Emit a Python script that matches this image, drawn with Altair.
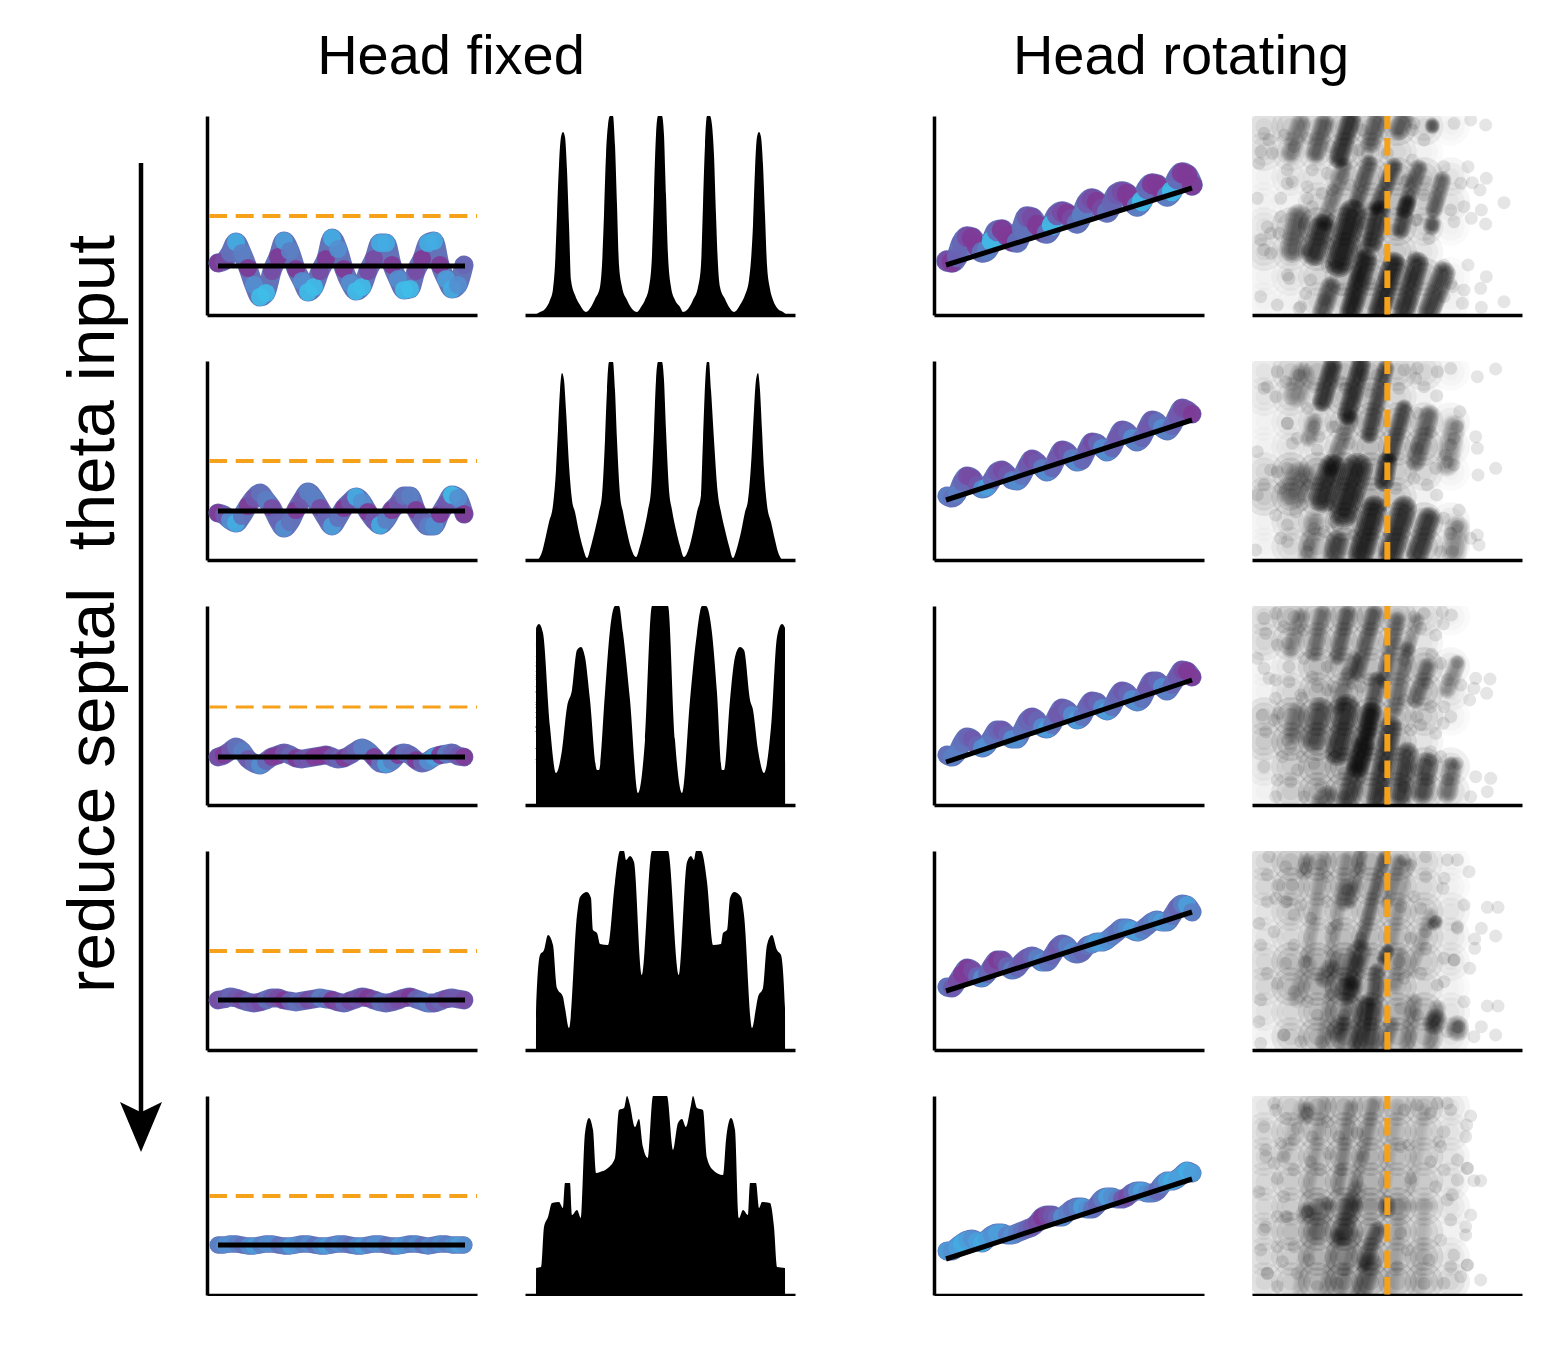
import altair as alt
import pandas as pd

FONT = "Liberation Sans"
PANEL_W, PANEL_H = 270, 199
ORANGE = "#f5a11a"

# ---------- head-fixed traces ----------
FIX_X = [11, 17, 23, 29, 35, 41, 47, 53, 59, 65, 71, 77, 83, 89, 95, 101, 107, 113, 119, 125, 131,
         137, 143, 149, 155, 161, 167, 173, 179, 185, 191, 197, 203, 209, 215, 221, 227, 233, 239, 245, 251, 257]
FIX_Y = [
    [52, 54, 62, 73, 62, 47, 30, 18, 22, 44, 58, 74, 64, 46, 34, 23, 28, 44, 56, 77, 66, 46, 32, 24, 28, 44, 56, 72, 72, 50, 36, 25, 26, 44, 56, 72, 74, 50, 36, 26, 30, 50],
    [47, 45, 40, 37, 44, 54, 62, 67, 60, 52, 40, 32, 38, 50, 60, 68, 62, 52, 42, 34, 42, 52, 58, 63, 58, 48, 40, 35, 40, 50, 56, 64, 64, 50, 40, 34, 34, 46, 56, 65, 62, 46],
    [48, 50, 54, 58, 54, 46, 42, 40, 44, 48, 50, 52, 50, 47, 46, 47, 48, 49, 50, 48, 46, 47, 50, 54, 57, 54, 48, 42, 41, 44, 50, 52, 50, 45, 42, 44, 48, 50, 51, 52, 49, 48],
    [50, 51, 53, 52, 50, 48, 47, 48, 50, 52, 52, 50, 49, 48, 49, 50, 51, 52, 51, 50, 48, 47, 49, 51, 53, 52, 50, 48, 47, 48, 50, 52, 53, 51, 49, 47, 47, 49, 51, 52, 51, 50],
    [50, 50, 51, 51, 50, 49, 49, 50, 51, 51, 50, 49, 49, 50, 51, 51, 50, 49, 49, 50, 51, 51, 50, 49, 49, 50, 51, 51, 50, 49, 49, 50, 51, 51, 50, 49, 50, 51, 51, 50, 50, 50],
]
FIX_C = [
    [0, 1, 4, 8, 5, 0, 6, 9, 9, 1, 0, 7, 5, 0, 6, 9, 9, 1, 0, 8, 6, 0, 6, 9, 9, 1, 1, 8, 8, 0, 6, 9, 9, 1, 0, 8, 8, 0, 7, 8, 6, 3],
    [0, 2, 6, 8, 4, 0, 2, 4, 5, 1, 3, 6, 4, 0, 2, 5, 5, 1, 3, 7, 4, 0, 2, 8, 6, 0, 2, 8, 5, 0, 2, 4, 5, 0, 3, 5, 6, 0, 2, 9, 6, 0],
    [1, 0, 2, 4, 5, 2, 4, 6, 3, 0, 0, 2, 3, 0, 2, 2, 0, 0, 0, 2, 3, 0, 2, 3, 5, 5, 0, 4, 7, 5, 0, 4, 3, 0, 3, 6, 7, 0, 5, 3, 2, 0],
    [1, 2, 3, 2, 1, 3, 2, 1, 4, 2, 1, 0, 3, 4, 3, 1, 2, 5, 4, 0, 1, 3, 1, 2, 1, 0, 1, 4, 3, 2, 1, 1, 0, 3, 4, 5, 2, 3, 1, 2, 2, 1],
    [5, 6, 6, 5, 4, 6, 7, 5, 6, 6, 4, 5, 7, 6, 5, 6, 4, 6, 7, 5, 6, 5, 4, 6, 7, 5, 6, 6, 4, 5, 7, 6, 5, 6, 4, 6, 5, 6, 5, 6, 7, 6],
]
FIX_SIZE = [330, 330, 320, 320, 270]
FIX_BLACK = [49, 49, 48, 50, 50]
THRESHOLD = [99, 99, 98, 99, 99]
THRESHOLD_W = [4, 4, 3, 4, 4]

# ---------- head-rotating traces ----------
ROT_X = [13, 18, 23, 28, 33, 38, 43, 48, 53, 58, 63, 68, 73, 78, 83, 88, 93, 98, 103, 108, 113, 118, 123, 128, 133,
         138, 143, 148, 153, 158, 163, 168, 173, 178, 183, 188, 193, 198, 203, 208, 213, 218, 223, 228, 233, 238, 243, 248, 253, 258]
ROT_Y = [
    [54, 53, 58, 72, 78, 77, 69, 63, 65, 74, 84, 85, 79, 74, 73, 86, 98, 97, 90, 84, 82, 90, 100, 103, 101, 96, 92, 100, 112, 116, 113, 106, 103, 112, 121, 123, 121, 114, 109, 114, 126, 131, 130, 124, 119, 124, 136, 142, 140, 130],
    [64, 62, 66, 78, 84, 82, 75, 71, 73, 80, 88, 90, 86, 80, 79, 84, 94, 101, 98, 92, 88, 92, 102, 110, 108, 102, 98, 100, 110, 118, 117, 112, 108, 112, 122, 130, 128, 122, 118, 122, 132, 140, 138, 132, 129, 134, 144, 152, 150, 146],
    [50, 48, 52, 62, 68, 66, 60, 57, 60, 68, 75, 75, 70, 66, 66, 74, 84, 88, 85, 78, 76, 80, 90, 97, 95, 90, 85, 88, 98, 104, 103, 97, 94, 98, 108, 114, 112, 106, 103, 106, 116, 124, 124, 118, 114, 120, 128, 135, 134, 128],
    [63, 62, 68, 76, 82, 80, 74, 72, 76, 84, 90, 90, 84, 80, 82, 88, 92, 94, 92, 88, 88, 94, 102, 106, 104, 98, 96, 98, 104, 106, 108, 108, 110, 114, 118, 122, 122, 120, 118, 120, 124, 128, 130, 128, 128, 134, 142, 146, 145, 138],
    [44, 44, 48, 52, 55, 56, 54, 52, 56, 60, 62, 62, 60, 60, 62, 64, 66, 68, 72, 78, 80, 80, 78, 78, 82, 86, 88, 88, 86, 86, 90, 96, 98, 98, 96, 96, 98, 102, 104, 104, 102, 102, 104, 110, 114, 114, 116, 120, 124, 122],
]
ROT_C = [
    [1, 0, 3, 3, 1, 0, 0, 4, 5, 9, 3, 0, 0, 0, 4, 4, 2, 1, 0, 0, 4, 9, 2, 1, 0, 1, 4, 5, 2, 1, 0, 1, 4, 3, 2, 1, 0, 0, 5, 9, 3, 0, 0, 0, 5, 9, 3, 0, 0, 0],
    [5, 4, 5, 3, 1, 1, 2, 6, 7, 3, 2, 1, 2, 5, 6, 4, 2, 1, 2, 5, 6, 3, 2, 1, 2, 5, 6, 3, 2, 1, 3, 6, 6, 3, 2, 2, 3, 6, 5, 3, 2, 2, 4, 6, 5, 3, 2, 1, 1, 0],
    [4, 5, 5, 4, 3, 2, 3, 6, 6, 4, 3, 2, 3, 6, 6, 4, 3, 2, 3, 6, 7, 4, 2, 2, 3, 6, 7, 4, 3, 2, 3, 6, 7, 4, 3, 2, 3, 6, 6, 4, 2, 2, 3, 6, 5, 3, 2, 1, 0, 0],
    [4, 2, 1, 0, 0, 1, 3, 6, 3, 1, 0, 1, 3, 5, 3, 2, 2, 3, 5, 6, 4, 3, 2, 3, 5, 6, 4, 3, 4, 6, 7, 7, 6, 5, 4, 5, 6, 7, 7, 5, 4, 5, 6, 7, 6, 4, 3, 5, 7, 5],
    [7, 6, 7, 8, 7, 6, 7, 8, 7, 6, 7, 7, 5, 6, 5, 4, 3, 2, 1, 0, 1, 2, 3, 6, 5, 4, 5, 7, 6, 4, 3, 5, 7, 6, 5, 2, 1, 3, 6, 7, 6, 5, 3, 5, 7, 8, 7, 7, 8, 7],
]
ROT_SIZE = [420, 330, 330, 330, 330]
ROT_BLACK_X = [12, 258]
ROT_BLACK_Y = [[50, 127], [60, 140], [43, 125], [59, 138], [36, 116]]

# ---------- histograms ----------
HIST_X = [
    [10, 15, 20, 25, 28, 30, 32, 34, 36, 38, 40, 42, 44, 46, 50, 55, 61, 66, 70, 75, 77, 79, 81, 83, 85, 88, 90, 92, 94, 97, 102, 108, 112, 116, 120, 124, 127, 129, 131, 133, 137, 139, 141, 143, 146, 150, 155, 158, 162, 168, 173, 176, 178, 180, 182, 185, 187, 189, 191, 193, 195, 200, 204, 209, 215, 220, 224, 228, 230, 232, 234, 236, 238, 240, 242, 245, 248, 253, 258, 262],
    [13, 17, 20, 24, 28, 31, 33, 35, 37, 39, 41, 44, 47, 50, 54, 58, 62, 66, 70, 74, 77, 80, 82, 84, 88, 90, 92, 95, 98, 102, 106, 111, 115, 119, 123, 126, 129, 131, 133, 137, 139, 141, 144, 147, 151, 155, 159, 164, 168, 172, 176, 178, 182, 184, 186, 189, 193, 196, 200, 204, 208, 212, 216, 220, 223, 226, 229, 231, 233, 235, 237, 239, 242, 246, 250, 253, 257],
    [11, 11.1, 14, 18, 25, 31, 37, 42, 47, 52, 56, 60, 65, 72, 74, 80, 85, 90, 94, 98, 105, 113, 120, 127, 143, 150, 157, 165, 172, 177, 181, 187, 192, 197, 199, 205, 210, 215, 219, 225, 228, 233, 239, 246, 252, 257, 260, 260.1],
    [11, 11.1, 15, 19, 23, 28, 32, 38, 40, 44, 52, 55, 62, 66, 68, 72, 75, 83, 90, 95, 99, 101, 105, 109, 117, 127, 143, 154, 162, 166, 169, 171, 176, 182, 188, 196, 198, 202, 205, 209, 216, 219, 227, 231, 233, 238, 242, 247, 252, 256, 260, 260.1],
    [11, 11.1, 16, 19, 23, 27, 34, 38, 40, 45, 47, 52, 56, 60, 64, 68, 71, 75, 83, 90, 94, 99, 102, 105, 110, 114, 118, 123, 128, 142, 148, 153, 157, 161, 166, 168, 172, 178, 182, 188, 198, 201, 206, 210, 214, 218, 223, 225, 231, 234, 237, 245, 249, 252, 260, 260.1],
]
HIST_Y = [
    [0, 3, 6, 15, 26, 50, 100, 150, 178, 183, 178, 145, 90, 35, 20, 10, 3, 8, 16, 28, 50, 100, 160, 190, 199, 199, 170, 110, 50, 28, 15, 5, 3, 8, 15, 28, 60, 120, 180, 199, 199, 180, 120, 60, 28, 15, 8, 3, 5, 15, 28, 50, 110, 170, 199, 199, 190, 160, 100, 50, 28, 16, 8, 3, 10, 20, 35, 90, 145, 178, 183, 178, 150, 100, 50, 26, 15, 6, 3, 0],
    [0, 8, 20, 38, 55, 90, 130, 170, 187, 180, 150, 95, 60, 48, 28, 12, 2, 14, 30, 48, 65, 120, 170, 198, 198, 170, 120, 65, 48, 28, 12, 3, 14, 30, 50, 70, 130, 180, 198, 198, 180, 130, 70, 50, 30, 14, 3, 12, 28, 48, 65, 120, 198, 198, 170, 120, 65, 48, 30, 14, 2, 12, 28, 48, 60, 95, 150, 180, 187, 170, 130, 90, 55, 38, 20, 8, 0],
    [0, 177, 181, 172, 78, 32, 55, 98, 115, 155, 158, 148, 105, 35, 35, 112, 175, 199, 199, 172, 105, 12, 65, 199, 199, 65, 12, 105, 172, 199, 199, 172, 112, 35, 35, 105, 148, 158, 155, 105, 95, 55, 32, 78, 168, 181, 177, 0],
    [0, 42, 95, 100, 115, 105, 62, 53, 42, 22, 135, 153, 158, 152, 120, 117, 106, 105, 168, 199, 199, 190, 194, 188, 75, 199, 199, 75, 188, 194, 190, 199, 199, 168, 105, 106, 117, 120, 152, 158, 153, 135, 22, 42, 53, 62, 105, 115, 100, 95, 42, 0],
    [0, 27, 28, 68, 78, 92, 93, 87, 112, 112, 80, 85, 77, 162, 177, 165, 122, 123, 127, 137, 185, 187, 199, 190, 168, 176, 148, 137, 199, 199, 145, 172, 176, 168, 190, 199, 187, 185, 137, 125, 120, 155, 177, 165, 77, 85, 80, 112, 112, 87, 93, 92, 68, 28, 27, 0],
]

# ---------- scatter panels (unit: digitised picture coordinates) ----------
HAZE_X = [60, 140, 220, 300, 380, 460, 540, 620, 700, 780]
HAZE_Y = [50, 125, 200, 275, 350, 425, 500, 575]
HAZE = [
    [[3, 4, 4, 5, 5, 5, 3, 1, 0, 0], [3, 3, 3, 5, 4, 3, 1, 0, 0, 0], [1, 2, 2, 4, 5, 5, 4, 2, 0, 0], [1, 1, 3, 4, 5, 5, 4, 2, 0, 0],
     [2, 4, 6, 6, 6, 5, 3, 1, 0, 0], [3, 3, 5, 6, 5, 4, 2, 0, 0, 0], [1, 2, 3, 5, 6, 6, 5, 1, 0, 0], [1, 1, 3, 4, 5, 5, 4, 1, 0, 0]],
    [[2, 4, 5, 5, 5, 4, 3, 1, 0, 0], [2, 3, 3, 5, 5, 3, 1, 0, 0, 0], [1, 2, 3, 4, 6, 5, 4, 2, 0, 0], [1, 2, 2, 4, 5, 5, 5, 2, 0, 0],
     [3, 5, 6, 6, 6, 4, 3, 1, 0, 0], [4, 5, 5, 6, 6, 4, 1, 0, 0, 0], [1, 3, 4, 6, 6, 5, 5, 2, 0, 0], [1, 3, 5, 6, 6, 5, 5, 2, 0, 0]],
    [[3, 5, 5, 6, 6, 5, 3, 1, 0, 0], [3, 4, 5, 5, 5, 4, 2, 0, 0, 0], [1, 2, 5, 5, 5, 5, 5, 2, 0, 0], [1, 3, 5, 5, 5, 5, 5, 2, 0, 0],
     [4, 6, 7, 7, 7, 5, 4, 1, 0, 0], [4, 6, 7, 7, 7, 5, 2, 0, 0, 0], [2, 4, 6, 7, 7, 6, 5, 3, 0, 0], [1, 4, 6, 7, 7, 6, 5, 3, 0, 0]],
    [[3, 5, 6, 6, 6, 5, 3, 1, 0, 0], [3, 5, 5, 5, 6, 4, 3, 1, 0, 0], [2, 4, 4, 4, 5, 5, 4, 2, 0, 0], [2, 3, 4, 5, 5, 5, 4, 2, 0, 0],
     [3, 5, 6, 7, 6, 5, 4, 2, 0, 0], [3, 5, 6, 7, 6, 5, 3, 1, 0, 0], [2, 3, 5, 7, 7, 6, 5, 2, 0, 0], [1, 4, 6, 7, 7, 6, 5, 2, 0, 0]],
    [[2, 4, 6, 6, 6, 5, 5, 2, 0, 0], [3, 4, 5, 6, 6, 5, 4, 2, 0, 0], [3, 4, 5, 6, 6, 5, 4, 2, 0, 0], [3, 4, 5, 6, 6, 5, 4, 2, 0, 0],
     [3, 4, 7, 7, 7, 6, 4, 2, 0, 0], [3, 5, 7, 8, 7, 5, 4, 1, 0, 0], [3, 4, 6, 7, 7, 5, 5, 2, 0, 0], [3, 4, 6, 7, 7, 6, 5, 3, 0, 0]],
]
# x0, y0, x1, y1, darkness, width
STREAKS = [
    [(170, 40, 140, 130, .35, 16), (240, 40, 215, 130, .5, 16), (320, 30, 285, 145, .75, 16), (400, 30, 380, 100, .45, 16), (478, 30, 465, 60, .45, 16),
     (375, 160, 340, 270, .5, 14), (450, 170, 400, 290, .6, 14), (525, 175, 480, 300, .5, 14), (595, 210, 570, 300, .5, 14),
     (165, 320, 145, 420, .5, 20), (235, 350, 210, 430, .8, 20), (325, 310, 285, 460, .95, 22), (410, 300, 385, 400, .7, 16), (490, 280, 470, 360, .6, 14), (565, 340, 563, 350, .5, 14),
     (450, 460, 405, 605, .9, 18), (365, 450, 320, 605, .85, 18), (520, 460, 480, 605, .8, 18), (600, 490, 555, 605, .7, 18), (260, 530, 235, 605, .6, 16), (565, 45, 565, 50, .5, 12),
     (300, 170, 240, 340, .35, 14), (380, 300, 320, 600, .2, 14)],
    [(265, 35, 235, 140, .8, 16), (350, 30, 310, 180, .8, 16), (425, 40, 375, 240, .6, 14), (480, 160, 440, 300, .6, 14), (555, 180, 515, 320, .45, 16), (630, 215, 610, 330, .3, 18),
     (340, 340, 300, 470, .9, 24), (265, 340, 235, 430, .85, 22), (430, 320, 420, 380, .8, 16), (170, 370, 150, 410, .4, 26), (390, 460, 350, 600, .9, 20), (480, 460, 440, 600, .8, 20),
     (555, 490, 520, 600, .7, 18), (280, 560, 270, 600, .6, 18), (640, 520, 630, 590, .3, 20), (175, 60, 155, 120, .3, 20),
     (320, 190, 260, 340, .35, 14), (210, 200, 195, 250, .3, 14), (210, 500, 190, 600, .25, 16)],
    [(310, 40, 280, 170, .45, 14), (390, 40, 340, 220, .45, 14), (235, 40, 210, 160, .35, 14), (460, 60, 420, 240, .4, 14), (490, 150, 450, 330, .35, 14), (550, 200, 515, 300, .4, 14),
     (640, 190, 610, 270, .3, 14), (310, 320, 280, 460, .7, 20), (380, 340, 340, 500, .65, 18), (230, 330, 210, 420, .5, 20), (400, 240, 370, 400, .5, 14), (160, 340, 150, 400, .3, 18),
     (440, 380, 400, 605, .7, 18), (360, 440, 310, 605, .6, 18), (490, 460, 470, 590, .65, 18), (550, 490, 535, 580, .55, 18), (625, 500, 610, 580, .4, 16), (250, 590, 235, 605, .4, 18),
     (170, 50, 140, 150, .25, 14), (330, 180, 280, 320, .3, 14), (520, 60, 490, 150, .25, 12)],
    [(350, 30, 320, 170, .3, 12), (420, 40, 350, 300, .4, 12), (465, 50, 430, 170, .3, 12), (190, 50, 180, 80, .25, 14), (310, 130, 300, 170, .25, 16), (345, 320, 320, 400, .45, 20),
     (430, 320, 420, 340, .6, 12), (315, 430, 310, 440, .6, 20), (400, 380, 380, 600, .5, 14), (365, 480, 340, 600, .65, 16), (290, 540, 280, 560, .35, 18), (575, 525, 570, 535, .5, 18),
     (640, 545, 640, 555, .4, 18), (260, 370, 240, 400, .35, 16), (575, 232, 570, 235, .4, 12), (510, 470, 490, 600, .25, 14), (440, 540, 420, 600, .3, 14),
     (240, 40, 190, 330, .15, 12), (310, 40, 260, 320, .18, 12), (280, 340, 240, 600, .2, 14), (340, 340, 290, 600, .25, 14), (490, 60, 440, 300, .15, 12), (560, 210, 500, 380, .15, 12),
     (580, 490, 560, 600, .25, 14), (190, 360, 160, 460, .18, 16), (470, 330, 450, 420, .2, 14)],
    [(320, 50, 280, 300, .2, 12), (390, 40, 330, 300, .2, 12), (190, 60, 185, 80, .3, 14), (320, 340, 290, 440, .4, 18), (240, 350, 220, 430, .25, 18), (400, 420, 360, 520, .45, 14),
     (380, 520, 350, 610, .4, 18), (280, 440, 250, 600, .2, 14), (190, 365, 185, 375, .3, 16), (430, 340, 430, 360, .4, 14), (340, 300, 300, 440, .2, 16),
     (240, 40, 190, 310, .12, 12), (170, 50, 120, 200, .08, 12), (460, 50, 420, 300, .08, 12), (540, 60, 500, 300, .08, 12), (210, 350, 170, 600, .12, 14), (330, 440, 290, 600, .2, 14),
     (470, 340, 440, 600, .1, 14), (540, 340, 520, 600, .08, 14), (250, 345, 560, 345, .08, 12)],
]
DOTS = [
    [(565, 48), (630, 40), (680, 30), (725, 45), (540, 90), (780, 278), (712, 300), (727, 205), (672, 170), (600, 170), (682, 325), (725, 342), (630, 335), (565, 345), (660, 290), (620, 300), (650, 220), (685, 218), (708, 240), (672, 465), (727, 500), (600, 465), (780, 575), (712, 592), (660, 540), (655, 580), (710, 535), (625, 530), (40, 265), (45, 160), (50, 560), (100, 585), (135, 505), (110, 265), (110, 320), (70, 350), (80, 430), (50, 125), (130, 220), (165, 595),
     (60, 70), (75, 90), (120, 75), (85, 130), (150, 110), (190, 85), (205, 180), (190, 230), (130, 180), (145, 215), (260, 110), (250, 190), (265, 240), (235, 250), (300, 200), (320, 225), (190, 265), (205, 290), (355, 60), (345, 120), (370, 130), (430, 130), (510, 40), (505, 60), (505, 150), (480, 215), (540, 255), (520, 330), (490, 210), (545, 215), (80, 370), (50, 390), (105, 370), (60, 420), (180, 340), (190, 420), (260, 330), (255, 400), (360, 340), (355, 420), (450, 360), (515, 330), (555, 385), (130, 495), (185, 550), (200, 510), (280, 470), (290, 540), (250, 470), (510, 440), (590, 470), (620, 520), (600, 560), (380, 520), (450, 580), (170, 590), (240, 570)],
    [(620, 40), (580, 50), (700, 65), (755, 42), (578, 122), (647, 170), (695, 245), (700, 280), (755, 340), (702, 360), (630, 250), (640, 215), (610, 320), (578, 420), (645, 465), (700, 540), (705, 570), (640, 515), (625, 590), (35, 585), (40, 290), (130, 560), (110, 550), (60, 100), (100, 50), (130, 205), (145, 265), (220, 285), (80, 345), (40, 420), (95, 480), (190, 590),
     (70, 95), (95, 125), (125, 80), (165, 60), (210, 95), (190, 160), (130, 205), (210, 215), (225, 245), (160, 250), (290, 80), (275, 215), (305, 100), (265, 215), (315, 265), (375, 110), (400, 60), (360, 60), (480, 45), (520, 40), (515, 70), (540, 95), (465, 100), (520, 175), (560, 230), (520, 280), (605, 300), (630, 330), (620, 270), (100, 350), (60, 390), (130, 340), (110, 400), (190, 390), (175, 450), (210, 520), (130, 510), (155, 470), (255, 450), (280, 510), (240, 530), (420, 450), (455, 400), (510, 370), (550, 390), (575, 340), (620, 535), (600, 490), (680, 550), (195, 570), (270, 500), (330, 540), (590, 590)],
    [(595, 35), (622, 45), (598, 72), (575, 105), (563, 162), (640, 187), (695, 235), (738, 237), (690, 265), (677, 300), (728, 280), (598, 370), (575, 400), (650, 255), (560, 455), (695, 530), (740, 535), (730, 575), (680, 590), (620, 490), (60, 55), (95, 40), (65, 100), (40, 175), (60, 205), (75, 235), (95, 240), (95, 295), (55, 345), (60, 500), (100, 540), (95, 590), (175, 295), (135, 200),
     (120, 80), (150, 50), (130, 130), (100, 135), (180, 90), (220, 260), (180, 175), (205, 230), (135, 245), (170, 285), (250, 200), (270, 260), (310, 220), (350, 260), (460, 130), (510, 50), (540, 40), (530, 85), (480, 180), (550, 250), (590, 190), (610, 240), (560, 320), (530, 375), (600, 320), (620, 350), (65, 395), (90, 360), (130, 420), (175, 470), (115, 470), (160, 510), (140, 545), (210, 490), (230, 560), (270, 470), (300, 520), (420, 500), (480, 560), (520, 510), (550, 540), (590, 470), (640, 490), (610, 540), (560, 480), (180, 590), (300, 590), (105, 340), (140, 440), (250, 270), (325, 250), (375, 240), (480, 300), (500, 390), (520, 350)],
    [(610, 45), (640, 45), (675, 80), (600, 100), (597, 130), (660, 180), (730, 187), (762, 187), (712, 250), (755, 273), (692, 282), (692, 310), (677, 370), (630, 345), (640, 250), (600, 410), (660, 470), (730, 483), (762, 483), (712, 545), (755, 570), (690, 575), (645, 545), (45, 235), (50, 300), (70, 385), (50, 465), (45, 530), (50, 595), (120, 570), (75, 35), (70, 90), (130, 170),
     (125, 65), (185, 70), (105, 120), (70, 170), (145, 120), (170, 180), (125, 170), (95, 160), (150, 210), (200, 220), (230, 60), (250, 95), (310, 135), (250, 170), (280, 240), (350, 70), (480, 45), (500, 60), (545, 35), (545, 95), (510, 155), (470, 185), (530, 190), (575, 230), (640, 245), (545, 310), (545, 260), (500, 280), (600, 340), (630, 345), (125, 355), (185, 350), (100, 415), (150, 440), (190, 470), (250, 380), (260, 450), (220, 510), (120, 570), (170, 590), (230, 590), (480, 400), (530, 385), (465, 350), (580, 420), (470, 490), (520, 510), (570, 525), (610, 560), (640, 545), (300, 510), (285, 550), (350, 280), (260, 250), (90, 260), (150, 300)],
    [(680, 78), (668, 105), (665, 140), (710, 272), (690, 272), (670, 235), (640, 210), (680, 375), (665, 410), (665, 435), (620, 390), (630, 495), (670, 525), (710, 570), (650, 560), (610, 40), (620, 60), (580, 40), (60, 110), (65, 180), (100, 265), (45, 305), (60, 420), (50, 480), (70, 550), (90, 40), (125, 380), (190, 365), (100, 590), (600, 125), (585, 155), (610, 330),
     (95, 60), (125, 85), (190, 70), (160, 115), (110, 160), (150, 150), (205, 140), (65, 200), (120, 200), (90, 220), (150, 240), (200, 215), (250, 95), (285, 140), (255, 190), (230, 240), (290, 240), (340, 130), (360, 200), (480, 60), (520, 45), (560, 70), (470, 170), (495, 165), (560, 215), (590, 170), (500, 265), (575, 290), (600, 240), (670, 235), (625, 315), (120, 320), (100, 380), (130, 380), (190, 365), (65, 410), (150, 470), (100, 470), (195, 510), (70, 550), (160, 550), (220, 590), (115, 515), (250, 340), (470, 430), (490, 480), (555, 510), (590, 450), (620, 530), (670, 525), (600, 580), (540, 580), (460, 530), (300, 540), (280, 580), (640, 270)],
]
SCAT_XLIM = [24, 834]
SCAT_YLIM = [615, 18]
SPEED_X = 430

COL_TITLES = ["Head fixed", "Head rotating"]
COL_TITLE_X = [244, 974]
SIDE_LABEL = "reduce septal\u00a0\u00a0theta input"

# ---------- helpers ----------
AX_X = alt.Axis(labels=False, ticks=False, title=None, grid=False, domainWidth=3.5, domainColor="black")
AX_Y = alt.Axis(labels=False, ticks=False, title=None, grid=False, domainWidth=3.5, domainColor="black")
SX = alt.Scale(domain=[0, PANEL_W], nice=False, zero=False)
SY = alt.Scale(domain=[0, PANEL_H], nice=False, zero=False)
CS = alt.Scale(domain=[0, 4.5, 9], range=["#7e3a96", "#5f78bd", "#3fbce8"])


def trace_panel(xs, ys, cs, size, blackx, blacky, threshold=None, thr_w=4):
    d = pd.DataFrame({"x": xs, "y": ys, "c": cs, "i": range(len(xs))})
    base_x = alt.X("x:Q", scale=SX, axis=AX_X)
    base_y = alt.Y("y:Q", scale=SY, axis=AX_Y)
    band = alt.Chart(d).mark_line(color="#6473b8", strokeWidth=size ** 0.5 * 1.05, strokeCap="round", clip=True,
                                  strokeJoin="round", interpolate="monotone").encode(x=base_x, y=base_y)
    dots = alt.Chart(d).mark_circle(size=size, opacity=0.9, clip=True).encode(
        x=base_x, y=base_y, order="i:Q", color=alt.Color("c:Q", scale=CS, legend=None))
    blk = alt.Chart(pd.DataFrame({"x": blackx, "y": blacky})).mark_line(
        color="black", strokeWidth=5, strokeJoin="round", clip=True).encode(x=base_x, y=base_y)
    layers = [band, dots, blk]
    if threshold is not None:
        th = alt.Chart(pd.DataFrame({"x": [2, 270], "y": [threshold, threshold]})).mark_line(
            color=ORANGE, strokeWidth=thr_w, strokeDash=[18, 8.7], strokeJoin="round", clip=True).encode(x=base_x, y=base_y)
        layers.append(th)
    return alt.layer(*layers).properties(width=PANEL_W, height=PANEL_H)


def hist_panel(xs, ys):
    d = pd.DataFrame({"x": xs, "y": ys})
    return alt.Chart(d).mark_area(color="black", clip=True, interpolate="monotone").encode(
        x=alt.X("x:Q", scale=SX, axis=AX_X),
        y=alt.Y("y:Q", scale=SY, axis=None),
    ).properties(width=PANEL_W, height=PANEL_H)


def scatter_panel(i):
    sx = alt.Scale(domain=SCAT_XLIM, nice=False, zero=False)
    sy = alt.Scale(domain=SCAT_YLIM, nice=False, zero=False)
    ex = alt.X("x:Q", scale=sx, axis=AX_X)
    ey = alt.Y("y:Q", scale=sy, axis=None)
    layers = []
    rows = []
    for ry, line in zip(HAZE_Y, HAZE[i]):
        for rx, v in zip(HAZE_X, line):
            if v:
                rows.append({"x": rx, "y": ry, "v": v})
    haze_df = pd.DataFrame(rows)
    for size, k in [(1500, 0.02), (800, 0.02), (300, 0.016)]:
        hd = haze_df.assign(o=haze_df["v"] * k)
        layers.append(alt.Chart(hd).mark_circle(color="black", size=size, clip=True).encode(
            x=ex, y=ey, opacity=alt.Opacity("o:Q", scale=None)))
    layers.append(alt.Chart(pd.DataFrame(DOTS[i], columns=["x", "y"])).mark_circle(
        color="black", size=170, opacity=0.1, clip=True).encode(x=ex, y=ey))
    st = pd.DataFrame(STREAKS[i], columns=["x", "y", "x2", "y2", "o", "w"])
    for wk in [1.3, 1.15, 1.0, 0.85, 0.65, 0.45]:
        sd = st.assign(oo=st["o"] * 0.25, ww=st["w"] * wk)
        layers.append(alt.Chart(sd).mark_rule(color="black", strokeCap="round", clip=True).encode(
            x=ex, y=ey, x2="x2:Q", y2="y2:Q",
            opacity=alt.Opacity("oo:Q", scale=None), size=alt.Size("ww:Q", scale=None)))
    layers.append(alt.Chart(pd.DataFrame({"x": [SPEED_X], "y": [SCAT_YLIM[1]], "y2": [SCAT_YLIM[0]]})).mark_rule(
        color=ORANGE, strokeWidth=6, strokeDash=[17.5, 9], strokeDashOffset=4.5, clip=True).encode(x=ex, y=ey, y2="y2:Q"))
    return alt.layer(*layers).properties(width=PANEL_W, height=PANEL_H)


rows = []
for i in range(5):
    a = trace_panel(FIX_X, FIX_Y[i], FIX_C[i], FIX_SIZE[i], [11, 258], [FIX_BLACK[i]] * 2, THRESHOLD[i], THRESHOLD_W[i])
    b = hist_panel(HIST_X[i], HIST_Y[i])
    c = trace_panel(ROT_X, ROT_Y[i], ROT_C[i], ROT_SIZE[i], ROT_BLACK_X, ROT_BLACK_Y[i])
    d = scatter_panel(i)
    rows.append(alt.hconcat(alt.hconcat(a, b, spacing=48),
                            alt.hconcat(c, d, spacing=48), spacing=139))

header = alt.Chart(pd.DataFrame({"x": COL_TITLE_X, "t": COL_TITLES})).mark_text(
    font=FONT, fontSize=56, color="black", baseline="middle", align="center").encode(
    x=alt.X("x:Q", scale=alt.Scale(domain=[0, 1316], nice=False), axis=None),
    y=alt.value(49), text="t:N").properties(width=1316, height=80)

grid = alt.vconcat(header, alt.vconcat(*rows, spacing=46), spacing=28)

LEFT_X = alt.Scale(domain=[8, 207], nice=False, zero=False)
LEFT_Y = alt.Scale(domain=[1296, 8], nice=False, zero=False)
lx = alt.X("x:Q", scale=LEFT_X, axis=None)
ly = alt.Y("y:Q", scale=LEFT_Y, axis=None)
label = alt.Chart(pd.DataFrame({"x": [114], "y": [614], "t": [SIDE_LABEL]})).mark_text(
    font=FONT, fontSize=67.5, angle=270, baseline="alphabetic", align="center", color="black").encode(
    x=lx, y=ly, text="t:N")
shaft = alt.Chart(pd.DataFrame({"x": [141], "y": [163], "y2": [1125]})).mark_rule(color="black", strokeWidth=4.5).encode(
    x=lx, y=ly, y2="y2:Q")
head = alt.Chart(pd.DataFrame({"x": [141], "y": [1127]})).mark_point(
    shape="M-1,-1.19 L0,-0.7 L1,-1.19 L0,1.19 Z", filled=True, size=1764, color="black", opacity=1).encode(x=lx, y=ly)
left = alt.layer(label, shaft, head).properties(width=199, height=1288)

chart = alt.hconcat(left, grid, spacing=0).properties(padding=0).configure_view(stroke=None)

chart.save("out.html", embed_options={"renderer": "svg", "actions": False})
